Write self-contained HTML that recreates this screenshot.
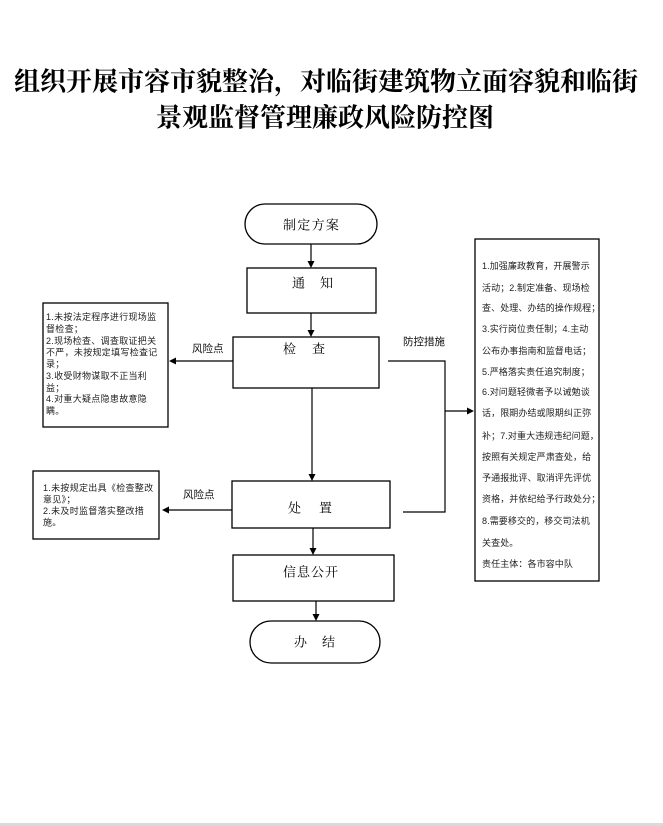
<!DOCTYPE html>
<html>
<head>
<meta charset="utf-8">
<style>
  html,body{margin:0;padding:0;background:#fff;}
  body{width:663px;height:826px;overflow:hidden;}
  svg{display:block;}
  .t{font-family:"Liberation Serif","Noto Serif CJK SC",serif;font-weight:bold;font-size:26px;fill:#000;}
  .lb{font-family:"Liberation Serif","Noto Serif CJK SC",serif;font-size:13px;fill:#000;}
  .sm{font-family:"Liberation Sans","Noto Sans CJK SC",sans-serif;font-size:9px;fill:#222;letter-spacing:0.3px;}
  .rs{font-family:"Liberation Sans","Noto Sans CJK SC",sans-serif;font-size:10.5px;fill:#111;}
</style>
</head>
<body>
<svg width="663" height="826" viewBox="0 0 663 826" xmlns="http://www.w3.org/2000/svg">
  <rect x="0" y="0" width="663" height="826" fill="#fff"/>
  <!-- Title -->
  <text class="t" x="326" y="82" text-anchor="middle" dominant-baseline="central">组织开展市容市貌整治，对临街建筑物立面容貌和临街</text>
  <text class="t" x="325" y="118" text-anchor="middle" dominant-baseline="central">景观监督管理廉政风险防控图</text>

  <g fill="none" stroke="#000" stroke-width="1.3">
    <!-- 制定方案 -->
    <rect x="245" y="204" width="132" height="40" rx="20" ry="20"/>
    <!-- 通知 -->
    <rect x="247" y="268" width="129" height="45"/>
    <!-- 检查 -->
    <rect x="233" y="337" width="146" height="51"/>
    <!-- 处置 -->
    <rect x="232" y="481" width="158" height="47"/>
    <!-- 信息公开 -->
    <rect x="233" y="555" width="161" height="46"/>
    <!-- 办结 -->
    <rect x="250" y="621" width="130" height="42" rx="21" ry="21"/>
    <!-- left boxes -->
    <rect x="43" y="303" width="125" height="124"/>
    <rect x="33" y="471" width="126" height="68"/>
    <!-- right box -->
    <rect x="475" y="239" width="124" height="342"/>
  </g>

  <!-- connectors -->
  <g stroke="#000" stroke-width="1.2" fill="none">
    <line x1="311" y1="244" x2="311" y2="262"/>
    <line x1="311" y1="313" x2="311" y2="331"/>
    <line x1="312" y1="388" x2="312" y2="475"/>
    <line x1="313" y1="528" x2="313" y2="549"/>
    <line x1="316" y1="601" x2="316" y2="615"/>
    <line x1="233" y1="361" x2="175" y2="361"/>
    <line x1="232" y1="510" x2="168" y2="510"/>
    <polyline points="388,361 445,361 445,512 403,512"/>
    <line x1="445" y1="411" x2="468" y2="411"/>
  </g>
  <g fill="#000">
    <polygon points="311,268 307.5,261 314.5,261"/>
    <polygon points="311,337 307.5,330 314.5,330"/>
    <polygon points="312,481 308.5,474 315.5,474"/>
    <polygon points="313,555 309.5,548 316.5,548"/>
    <polygon points="316,621 312.5,614 319.5,614"/>
    <polygon points="169,361 176,357.5 176,364.5"/>
    <polygon points="162,510 169,506.5 169,513.5"/>
    <polygon points="474,411 467,407.5 467,414.5"/>
  </g>

  <!-- main labels -->
  <text class="lb" x="283" y="225" dominant-baseline="central" letter-spacing="1.3">制定方案</text>
  <text class="lb" x="292" y="283" dominant-baseline="central">通</text>
  <text class="lb" x="320" y="283" dominant-baseline="central">知</text>
  <text class="lb" x="283" y="349" dominant-baseline="central">检</text>
  <text class="lb" x="312" y="349" dominant-baseline="central">查</text>
  <text class="lb" x="288" y="508" dominant-baseline="central">处</text>
  <text class="lb" x="319" y="508" dominant-baseline="central">置</text>
  <text class="lb" x="283" y="572" dominant-baseline="central" letter-spacing="1">信息公开</text>
  <text class="lb" x="294" y="642" dominant-baseline="central">办</text>
  <text class="lb" x="322" y="642" dominant-baseline="central">结</text>

  <!-- connector labels -->
  <text class="rs" x="192" y="349" dominant-baseline="central">风险点</text>
  <text class="rs" x="183" y="495" dominant-baseline="central">风险点</text>
  <text class="rs" x="403" y="342" dominant-baseline="central">防控措施</text>

  <!-- left box 1 text -->
  <g class="sm">
    <text x="46" y="317" dominant-baseline="central">1.未按法定程序进行现场监</text>
    <text x="46" y="329" dominant-baseline="central">督检查；</text>
    <text x="46" y="341" dominant-baseline="central">2.现场检查、调查取证把关</text>
    <text x="46" y="352.5" dominant-baseline="central">不严，未按规定填写检查记</text>
    <text x="46" y="364" dominant-baseline="central">录；</text>
    <text x="46" y="376" dominant-baseline="central">3.收受财物谋取不正当利</text>
    <text x="46" y="388" dominant-baseline="central">益；</text>
    <text x="46" y="399" dominant-baseline="central">4.对重大疑点隐患故意隐</text>
    <text x="46" y="411" dominant-baseline="central">瞒。</text>
  </g>

  <!-- left box 2 text -->
  <g class="sm">
    <text x="43" y="488" dominant-baseline="central">1.未按规定出具《检查整改</text>
    <text x="43" y="499.5" dominant-baseline="central">意见》；</text>
    <text x="43" y="511" dominant-baseline="central">2.未及时监督落实整改措</text>
    <text x="43" y="522.5" dominant-baseline="central">施。</text>
  </g>

  <!-- right box text -->
  <g class="sm" style="letter-spacing:0.1px">
    <text x="482" y="266" dominant-baseline="central">1.加强廉政教育，开展警示</text>
    <text x="482" y="288" dominant-baseline="central">活动；2.制定准备、现场检</text>
    <text x="482" y="308" dominant-baseline="central">查、处理、办结的操作规程；</text>
    <text x="482" y="329" dominant-baseline="central">3.实行岗位责任制；4.主动</text>
    <text x="482" y="351" dominant-baseline="central">公布办事指南和监督电话；</text>
    <text x="482" y="372" dominant-baseline="central">5.严格落实责任追究制度；</text>
    <text x="482" y="392" dominant-baseline="central">6.对问题轻微者予以诫勉谈</text>
    <text x="482" y="413" dominant-baseline="central">话，限期办结或限期纠正弥</text>
    <text x="482" y="436" dominant-baseline="central">补；7.对重大违规违纪问题，</text>
    <text x="482" y="457" dominant-baseline="central">按照有关规定严肃查处，给</text>
    <text x="482" y="478" dominant-baseline="central">予通报批评、取消评先评优</text>
    <text x="482" y="499" dominant-baseline="central">资格，并依纪给予行政处分；</text>
    <text x="482" y="521" dominant-baseline="central">8.需要移交的，移交司法机</text>
    <text x="482" y="543" dominant-baseline="central">关查处。</text>
    <text x="482" y="564" dominant-baseline="central">责任主体：各市容中队</text>
  </g>

  <!-- bottom bar -->
  <rect x="0" y="823" width="663" height="3" fill="#dadada"/>
</svg>
</body>
</html>
